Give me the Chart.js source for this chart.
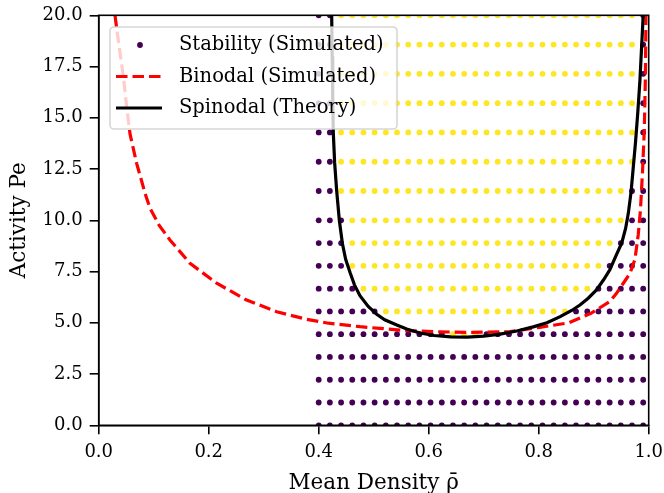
<!DOCTYPE html>
<html><head><meta charset="utf-8">
<style>html,body{margin:0;padding:0;background:#fff}#wrap{width:664px;height:493px}</style>
<script src="https://cdn.jsdelivr.net/npm/chart.js@4.4.1/dist/chart.umd.min.js"></script>
</head><body><div id="wrap"><canvas id="c" width="664" height="493"></canvas></div>
<script>
// ---- data ----
const densities = [0.4000, 0.4203, 0.4407, 0.4610, 0.4814, 0.5017, 0.5221, 0.5424, 0.5628, 0.5831,
                   0.6034, 0.6238, 0.6441, 0.6645, 0.6848, 0.7052, 0.7255, 0.7459, 0.7662, 0.7866,
                   0.8069, 0.8272, 0.8476, 0.8679, 0.8883, 0.9086, 0.9290, 0.9493, 0.9697, 0.9900];
const activities = [0, 1.111, 2.222, 3.333, 4.444, 5.556, 6.667, 7.778, 8.889, 10.0,
                    11.429, 12.857, 14.286, 15.714, 17.143, 18.571, 20.0];
// one string per activity row (bottom to top); 0 = stable, 1 = phase separated
const phaseRows = [
  "000000000000000000000000000000",
  "000000000000000000000000000000",
  "000000000000000000000000000000",
  "000000000000000000000000000000",
  "000000000000111000000000000000",
  "000000111111111111111110000000",
  "000011111111111111111111100000",
  "000111111111111111111111110000",
  "000111111111111111111111111000",
  "000111111111111111111111111100",
  "001111111111111111111111111100",
  "001111111111111111111111111110",
  "001111111111111111111111111110",
  "001111111111111111111111111110",
  "001111111111111111111111111110",
  "001111111111111111111111111110",
  "001111111111111111111111111110"
];
const spinodalRho = [0.4236, 0.4245, 0.4255, 0.4265, 0.429, 0.4327, 0.4375, 0.443, 0.449, 0.457,
                     0.465, 0.475, 0.490, 0.5055, 0.520, 0.542, 0.560, 0.584, 0.610, 0.640,
                     0.670, 0.700, 0.730, 0.760, 0.790, 0.815, 0.839, 0.860, 0.875, 0.890,
                     0.905, 0.918, 0.9296, 0.941, 0.951, 0.958, 0.963, 0.968, 0.972, 0.976,
                     0.980, 0.984, 0.987, 0.990];
const spinodalPe = [20, 18, 16, 14.3, 12.8, 11.44, 10.0, 8.88, 8.1, 7.45,
                    6.85, 6.32, 5.8, 5.42, 5.15, 4.89, 4.7, 4.5, 4.38, 4.31,
                    4.3, 4.35, 4.45, 4.6, 4.8, 5.0, 5.3, 5.6, 5.87, 6.2,
                    6.6, 7.1, 7.6, 8.3, 8.9, 9.6, 10.35, 11.4, 12.6, 13.8,
                    15.2, 16.8, 18.4, 20];
const binodalRho = [0.0296, 0.037, 0.0449, 0.051, 0.057, 0.069, 0.0842, 0.0933, 0.11, 0.1296,
                    0.166, 0.2145, 0.269, 0.3236, 0.378, 0.4175, 0.475, 0.511, 0.56, 0.62,
                    0.68, 0.748, 0.802, 0.855, 0.895, 0.93, 0.9415, 0.966, 0.975, 0.981,
                    0.985, 0.989, 0.992, 0.994, 0.995];
const binodalPe = [20, 18.5, 17.0, 15.5, 14.2, 12.78, 11.32, 10.59, 9.75, 9.04,
                   7.9, 6.93, 6.11, 5.54, 5.17, 4.98, 4.81, 4.73, 4.62, 4.56,
                   4.53, 4.57, 4.78, 5.0, 5.46, 6.05, 6.44, 7.41, 8.1, 9.3,
                   10.5, 12.5, 14.4, 17, 20];
const xTicks = [0.0, 0.2, 0.4, 0.6, 0.8, 1.0];
const yTicks = [0.0, 2.5, 5.0, 7.5, 10.0, 12.5, 15.0, 17.5, 20.0];
const seriesLabels = ["Stability (Simulated)", "Binodal (Simulated)", "Spinodal (Theory)"];
const xTitle = "Mean Density \u03C1\u0304";
const yTitle = "Activity Pe";

// ---- styles ----
const SERIF = "'DejaVu Serif', serif";
const stableColor = "#440154", unstableColor = "#fde725";

const gridPts = [], gridCols = [];
activities.forEach((pe, r) => {
  densities.forEach((rho, i) => {
    gridPts.push({x: rho, y: pe});
    gridCols.push(phaseRows[r][i] === "1" ? unstableColor : stableColor);
  });
});

const framePlugin = {
  id: "frame",
  afterDatasetsDraw(chart) {
    const {ctx, chartArea: a} = chart;
    ctx.save();
    ctx.strokeStyle = "#000"; ctx.lineWidth = 1.6;
    ctx.strokeRect(a.left, a.top, a.right - a.left, a.bottom - a.top);
    ctx.restore();
  }
};

const legendPlugin = {
  id: "mplLegend",
  afterDraw(chart) {
    const ctx = chart.ctx;
    const bx = 110, by = 27, bw = 287, bh = 102;
    ctx.save();
    ctx.beginPath();
    ctx.roundRect(bx, by, bw, bh, 4);
    ctx.fillStyle = "rgba(255,255,255,0.8)";
    ctx.fill();
    ctx.strokeStyle = "rgba(204,204,204,0.8)";
    ctx.lineWidth = 1.6;
    ctx.stroke();
    const rows = [45, 76.5, 108];
    chart.data.datasets.forEach((ds, k) => {
      const y = rows[k];
      if (ds.showLine) {
        ctx.beginPath();
        ctx.setLineDash(ds.borderDash || []);
        ctx.strokeStyle = ds.borderColor;
        ctx.lineWidth = ds.borderWidth;
        ctx.moveTo(116, y); ctx.lineTo(162, y);
        ctx.stroke();
        ctx.setLineDash([]);
      } else {
        ctx.beginPath();
        ctx.arc(140, y, ds.pointRadius, 0, Math.PI * 2);
        ctx.fillStyle = stableColor;
        ctx.fill();
      }
      ctx.fillStyle = "#000";
      ctx.font = "19.5px " + SERIF;
      ctx.textBaseline = "middle";
      ctx.textAlign = "left";
      ctx.fillText(ds.label, 179, y);
    });
    ctx.restore();
  }
};

new Chart(document.getElementById("c"), {
  type: "scatter",
  data: {
    datasets: [
      { label: seriesLabels[0], data: gridPts, pointRadius: 2.9, pointHoverRadius: 2.9,
        pointBackgroundColor: gridCols, pointBorderWidth: 0, showLine: false, order: 2, clip: 0 },
      { label: seriesLabels[1], data: binodalRho.map((x, i) => ({x, y: binodalPe[i]})),
        showLine: true, borderColor: "#ff0000", borderWidth: 3.2, borderDash: [11.5, 5],
        pointRadius: 0, tension: 0, order: 1, clip: 0 },
      { label: seriesLabels[2], data: spinodalRho.map((x, i) => ({x, y: spinodalPe[i]})),
        showLine: true, borderColor: "#000000", borderWidth: 3.2,
        pointRadius: 0, tension: 0, order: 0, clip: 0 }
    ]
  },
  options: {
    responsive: false, animation: false, devicePixelRatio: 1,
    layout: { padding: { top: 15.3, right: 15.3, bottom: 0, left: 0 } },
    plugins: { legend: { display: false }, tooltip: { enabled: false } },
    scales: {
      x: {
        type: "linear", min: 0, max: 1,
        afterBuildTicks: s => { s.ticks = xTicks.map(v => ({value: v})); },
        afterFit: s => { s.height = 67.7; s.paddingLeft = 0; s.paddingRight = 0; },
        ticks: { callback: v => Number(v).toFixed(1), color: "#000", padding: 7,
                 font: { family: SERIF, size: 18 }, maxRotation: 0 },
        grid: { display: true, drawOnChartArea: false, drawTicks: true, tickLength: 9,
                color: "#000", lineWidth: 1.6 },
        border: { display: true, color: "#000", width: 1.6 },
        title: { display: true, text: xTitle, color: "#000",
                 font: { family: SERIF, size: 21.5, lineHeight: 0.9 }, padding: { top: 0, bottom: 0 } }
      },
      y: {
        type: "linear", min: 0, max: 20,
        afterBuildTicks: s => { s.ticks = yTicks.map(v => ({value: v})); },
        afterFit: s => { s.width = 98.7; s.paddingTop = 0; s.paddingBottom = 0; },
        ticks: { callback: v => Number(v).toFixed(1), color: "#000", padding: 7,
                 font: { family: SERIF, size: 18 } },
        grid: { display: true, drawOnChartArea: false, drawTicks: true, tickLength: 9,
                color: "#000", lineWidth: 1.6 },
        border: { display: true, color: "#000", width: 1.6 },
        title: { display: true, text: yTitle, color: "#000",
                 font: { family: SERIF, size: 21.5 }, padding: { top: 7, bottom: 0 } }
      }
    }
  },
  plugins: [framePlugin, legendPlugin]
});
</script></body></html>
